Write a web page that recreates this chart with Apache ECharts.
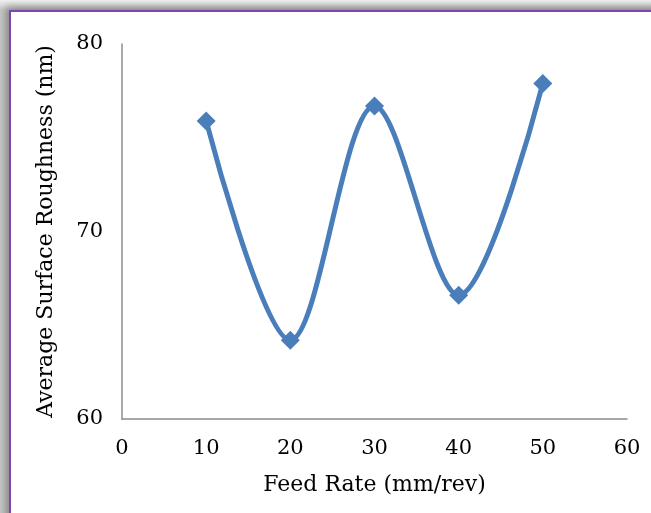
<!DOCTYPE html>
<html>
<head>
<meta charset="utf-8">
<script src="https://cdn.jsdelivr.net/npm/echarts@6/dist/echarts.min.js"></script>
<style>
  html, body { margin: 0; padding: 0; width: 651px; height: 513px; overflow: hidden; background: linear-gradient(to bottom, #f2f2f2, #c8c8c8 10px); }
  #frame { position: absolute; left: 9px; top: 10px; width: 700px; height: 560px; background: #fff; border: 2px solid #7e44b8; box-shadow: -3px -3px 8px rgba(0,0,0,0.35); }
  #chart { position: absolute; left: 0; top: 0; width: 651px; height: 513px; }
</style>
</head>
<body>
<div id="frame"></div>
<div id="chart"></div>
<script>
const feedRates = [10, 20, 30, 40, 50];
const roughness = [75.9, 64.2, 76.7, 66.6, 77.9];
const xTicks = [0, 60, 10];   // min, max, interval
const yTicks = [60, 80, 10];  // min, max, interval
const xTitle = 'Feed Rate (mm/rev)';
const yTitle = 'Average Surface Roughness (nm)';

const font = '"DejaVu Serif", "Liberation Serif", serif';
const chart = echarts.init(document.getElementById('chart'), null, { renderer: 'canvas' });
chart.setOption({
  backgroundColor: 'transparent',
  animation: false,
  grid: { left: 122, right: 24, top: 44, bottom: 94 },
  xAxis: {
    type: 'value', min: xTicks[0], max: xTicks[1], interval: xTicks[2],
    name: xTitle, nameLocation: 'middle', nameGap: 55,
    nameTextStyle: { fontFamily: font, fontSize: 22, color: '#000' },
    axisLine: { show: true, lineStyle: { color: '#8c8c8c', width: 1.5 } },
    axisTick: { show: false },
    splitLine: { show: false },
    axisLabel: { fontFamily: font, fontSize: 21, color: '#000', margin: 19 }
  },
  yAxis: {
    type: 'value', min: yTicks[0], max: yTicks[1], interval: yTicks[2],
    name: yTitle, nameLocation: 'middle', nameGap: 65,
    nameTextStyle: { fontFamily: font, fontSize: 22, color: '#000' },
    axisLine: { show: true, lineStyle: { color: '#8c8c8c', width: 1.5 } },
    axisTick: { show: false },
    splitLine: { show: false },
    axisLabel: { fontFamily: font, fontSize: 21, color: '#000', margin: 19 }
  },
  series: [{
    type: 'line',
    data: feedRates.map((x, i) => [x, roughness[i]]),
    smooth: 0.33,
    symbol: 'diamond',
    symbolSize: 19,
    lineStyle: { color: '#4a7ebb', width: 5 },
    itemStyle: { color: '#4a7ebb' }
  }]
});
</script>
</body>
</html>
